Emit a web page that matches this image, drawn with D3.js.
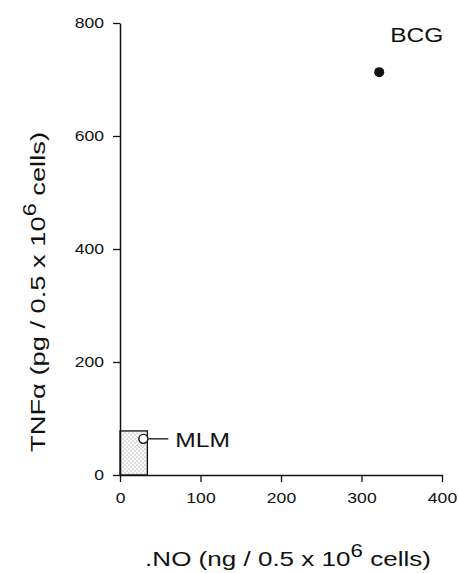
<!DOCTYPE html>
<html>
<head>
<meta charset="utf-8">
<script src="https://cdn.jsdelivr.net/npm/d3@7"></script>
<style>
  html, body { margin: 0; padding: 0; background: #ffffff; }
  svg { display: block; font-family: "Liberation Sans", Arial, sans-serif; }
</style>
</head>
<body>
<svg id="chart" width="459" height="573"></svg>
<script>
// ---- data ----
const xTicks = [0, 100, 200, 300, 400];
const yTicks = [0, 200, 400, 600, 800];
const pointNames = ["BCG", "MLM"];
const pointNO = [322, 29];
const pointTNF = [713, 64];
const pointFilled = [true, false];
// shaded range box (MLM region)
const boxNO = [0, 34];
const boxTNF = [0, 78];

const svg = d3.select("#chart");
const x = d3.scaleLinear().domain([0, 400]).range([120, 442]);
const y = d3.scaleLinear().domain([0, 800]).range([475, 23]);
const SX = 1.17; // horizontal stretch of the reference lettering

// stipple pattern
const defs = svg.append("defs");
const pat = defs.append("pattern")
  .attr("id", "stipple").attr("patternUnits", "userSpaceOnUse")
  .attr("width", 4).attr("height", 4);
pat.append("rect").attr("width", 4).attr("height", 4).attr("fill", "#f8f8f8");
pat.append("circle").attr("cx", 1).attr("cy", 1).attr("r", 0.6).attr("fill", "#8a8a8a");
pat.append("circle").attr("cx", 3).attr("cy", 3).attr("r", 0.6).attr("fill", "#8a8a8a");

// box
svg.append("rect")
  .attr("x", x(boxNO[0])).attr("y", y(boxTNF[1]))
  .attr("width", x(boxNO[1]) - x(boxNO[0]))
  .attr("height", y(boxTNF[0]) - y(boxTNF[1]))
  .attr("fill", "url(#stipple)").attr("stroke", "#111").attr("stroke-width", 1.3);

// axes
const xAxis = svg.append("g").attr("transform", `translate(0,${y(0)})`)
  .call(d3.axisBottom(x).tickValues(xTicks).tickSize(7).tickSizeOuter(0).tickPadding(10));
const yAxis = svg.append("g").attr("transform", `translate(${x(0)},0)`)
  .call(d3.axisLeft(y).tickValues(yTicks).tickSize(7).tickSizeOuter(0).tickPadding(9));
[xAxis, yAxis].forEach(g => {
  g.select(".domain").attr("stroke", "#111").attr("stroke-width", 1.5);
  g.selectAll(".tick line").attr("stroke", "#111").attr("stroke-width", 1.3);
  g.selectAll(".tick text").attr("fill", "#111").style("font-size", "15px")
    .style("font-family", "'Liberation Sans', Arial, sans-serif");
});
// stretch tick labels horizontally like the reference
xAxis.selectAll(".tick text").attr("dy", "0.75em")
  .attr("transform", `scale(${SX},1)`);
yAxis.selectAll(".tick text").each(function() {
  const t = d3.select(this);
  const tx = +t.attr("x");
  t.attr("x", 0).attr("transform", `translate(${tx},0) scale(${SX},1)`);
});

// points
pointNames.forEach((name, i) => {
  const cx = x(pointNO[i]), cy = y(pointTNF[i]);
  if (pointFilled[i]) {
    svg.append("circle").attr("cx", cx).attr("cy", cy).attr("r", 5).attr("fill", "#111");
    svg.append("text").attr("transform", `translate(${cx + 11},${cy - 30}) scale(${SX},1)`)
      .attr("fill", "#111").style("font-size", "21px").text(name);
  } else {
    svg.append("line").attr("x1", cx + 5).attr("x2", cx + 25)
      .attr("y1", cy).attr("y2", cy).attr("stroke", "#111").attr("stroke-width", 1.3);
    svg.append("circle").attr("cx", cx).attr("cy", cy).attr("r", 4.5)
      .attr("fill", "#fff").attr("stroke", "#111").attr("stroke-width", 1.4);
    svg.append("text").attr("transform", `translate(${cx + 32},${cy + 8}) scale(${SX},1)`)
      .attr("fill", "#111").style("font-size", "21px").text(name);
  }
});

// axis titles
const xt = svg.append("text").attr("transform", `translate(288,566) scale(1.24,1)`)
  .attr("text-anchor", "middle").attr("fill", "#111").style("font-size", "21px");
xt.append("tspan").text(".NO (ng / 0.5 x 10");
xt.append("tspan").attr("dy", -9).style("font-size", "18px").text("6");
xt.append("tspan").attr("dy", 9).text(" cells)");

const yt = svg.append("text")
  .attr("transform", "translate(45,292) rotate(-90) scale(1.3,1)")
  .attr("text-anchor", "middle").attr("fill", "#111").style("font-size", "21px");
yt.append("tspan").text("TNFα (pg / 0.5 x 10");
yt.append("tspan").attr("dy", -9).style("font-size", "18px").text("6");
yt.append("tspan").attr("dy", 9).text(" cells)");
</script>
</body>
</html>
